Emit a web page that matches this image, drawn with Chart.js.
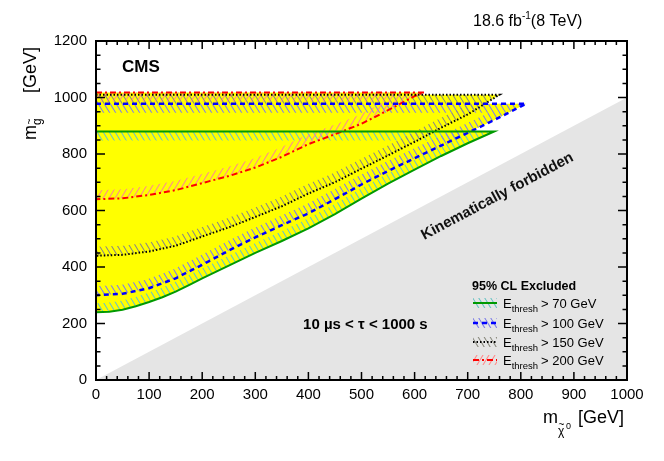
<!DOCTYPE html>
<html>
<head>
<meta charset="utf-8">
<title>Gluino limits</title>
<script src="https://cdn.jsdelivr.net/npm/chart.js@4.4.1/dist/chart.umd.min.js"></script>
<style>
  html, body { margin: 0; padding: 0; background: #fff; }
  #wrap { width: 664px; height: 461px; }
</style>
</head>
<body>
<div id="wrap"><canvas id="limit-chart" width="664" height="461"></canvas></div>
<script>
// axis ranges and ticks
var xRange = [0, 1000];
var yRange = [0, 1200];
var xMajorStep = 100, xMinorStep = 20;
var yMajorStep = 200, yMinorStep = 50;

// lower edge of each excluded region (m_chi0, m_gluino), plus its flat upper edge
var greenX = [0, 25, 50, 75, 100, 125, 150, 175, 200, 250, 300, 350, 400, 450, 500, 550, 600, 650, 700, 750];
var greenY = [240, 242, 249, 261, 276, 293, 313, 336, 360, 405, 450, 492, 537, 587, 642, 695, 745, 793, 838, 880];
var greenTop = 880;

var blueX = [0, 50, 100, 150, 200, 250, 300, 350, 400, 450, 500, 550, 600, 650, 700, 750, 810];
var blueY = [300, 305, 325, 360, 408, 458, 505, 548, 590, 640, 692, 740, 785, 830, 875, 920, 978];
var blueTop = 978;

var blackX = [0, 50, 100, 150, 200, 250, 300, 350, 400, 450, 500, 550, 600, 650, 700, 760];
var blackY = [440, 443, 455, 475, 508, 540, 577, 615, 660, 700, 748, 795, 843, 893, 940, 1010];
var blackTop = 1010;

var redX = [0, 50, 100, 150, 200, 250, 300, 350, 400, 450, 500, 550, 600, 618];
var redY = [640, 643, 655, 672, 697, 722, 752, 790, 835, 870, 907, 955, 1005, 1018];
var redTop = 1018;

// kinematically forbidden triangle (m_chi0 > m_gluino)
var forbiddenX = [0, 1000, 1000];
var forbiddenY = [0, 0, 1000];

var legendNames = ["> 70 GeV", "> 100 GeV", "> 150 GeV", "> 200 GeV"];

var FONT = "'Liberation Sans', Arial, Helvetica, sans-serif";

function toPoints(xs, ys) {
  return xs.map(function (x, i) { return { x: x, y: ys[i] }; });
}

// top edge from x=0 to the tip, then back along the lower edge
function regionPoints(xs, ys, top) {
  var pts = [{ x: xs[0], y: top }];
  for (var i = xs.length - 1; i >= 0; i--) pts.push({ x: xs[i], y: ys[i] });
  return pts;
}

function makeHatch(color, forward) {
  var w = 6, h = 10;
  var c = document.createElement("canvas");
  c.width = w;
  c.height = h;
  var g = c.getContext("2d");
  g.strokeStyle = color;
  g.lineWidth = 1.1;
  g.beginPath();
  if (forward) {
    g.moveTo(0, h); g.lineTo(w, 0);
    g.moveTo(-w, h); g.lineTo(0, 0);
    g.moveTo(w, h); g.lineTo(2 * w, 0);
  } else {
    g.moveTo(0, 0); g.lineTo(w, h);
    g.moveTo(-w, 0); g.lineTo(0, h);
    g.moveTo(w, 0); g.lineTo(2 * w, h);
  }
  g.stroke();
  return g.createPattern(c, "repeat");
}

var regions = [
  { pts: regionPoints(greenX, greenY, greenTop), line: "#009a00", dash: [], width: 2, hatch: makeHatch("#6cc4c4", false) },
  { pts: regionPoints(blueX, blueY, blueTop), line: "#0000ff", dash: [5, 4], width: 2.5, hatch: makeHatch("#8080e8", false) },
  { pts: regionPoints(blackX, blackY, blackTop), line: "#000000", dash: [1.5, 2], width: 2, hatch: makeHatch("#8c8c80", false) },
  { pts: regionPoints(redX, redY, redTop), line: "#ff0000", dash: [6, 3, 2, 3], width: 2, hatch: makeHatch("#ff8c8c", true) },
];

var datasets = [];
regions.forEach(function (r) {
  datasets.push({
    data: r.pts, showLine: true, outline: true, order: 1,
    borderColor: r.line, borderWidth: r.width, borderDash: r.dash,
    pointRadius: 0, fill: false, tension: 0,
  });
});
regions.forEach(function (r) {
  datasets.push({
    data: r.pts, showLine: true, order: 2,
    borderWidth: 0, borderColor: "rgba(0,0,0,0)", backgroundColor: "#ffff00",
    pointRadius: 0, fill: "shape", tension: 0,
  });
});
datasets.push({
  data: toPoints(forbiddenX, forbiddenY), showLine: true, order: 3,
  borderWidth: 0, borderColor: "rgba(0,0,0,0)", backgroundColor: "#e5e5e5",
  pointRadius: 0, fill: "shape",
});

function tracePath(ctx, chart, pts, close) {
  var xs = chart.scales.x, ys = chart.scales.y;
  ctx.beginPath();
  pts.forEach(function (p, i) {
    var px = xs.getPixelForValue(p.x), py = ys.getPixelForValue(p.y);
    if (i === 0) ctx.moveTo(px, py);
    else ctx.lineTo(px, py);
  });
  if (close) ctx.closePath();
}

// hatched band on the inner side of each contour, drawn under the contour lines
var hatchPlugin = {
  id: "hatch",
  beforeDatasetsDraw: function (chart) { chart.$hatched = false; },
  beforeDatasetDraw: function (chart, args) {
    if (chart.$hatched || !chart.data.datasets[args.index].outline) return;
    chart.$hatched = true;
    var ctx = chart.ctx, a = chart.chartArea;
    regions.forEach(function (r) {
      ctx.save();
      ctx.beginPath();
      ctx.rect(a.left, a.top, a.right - a.left, a.bottom - a.top);
      ctx.clip();
      tracePath(ctx, chart, r.pts, true);
      ctx.clip();
      tracePath(ctx, chart, r.pts, false);
      ctx.strokeStyle = r.hatch;
      ctx.lineWidth = 18;
      ctx.lineJoin = "round";
      ctx.stroke();
      ctx.restore();
    });
  },
};

function drawScript(ctx, x, y, parts) {
  parts.forEach(function (p) {
    ctx.font = (p.bold ? "bold " : "") + p.size + "px " + FONT;
    ctx.fillText(p.t, x, y + (p.dy || 0));
    x += ctx.measureText(p.t).width + (p.gap || 0);
  });
  return x;
}

var framePlugin = {
  id: "rootFrame",
  afterDraw: function (chart) {
    var ctx = chart.ctx, a = chart.chartArea, xs = chart.scales.x, ys = chart.scales.y;
    var v, px, py, len;
    ctx.save();
    ctx.strokeStyle = "#000";
    ctx.lineWidth = 1.5;
    ctx.beginPath();
    for (v = xRange[0]; v <= xRange[1]; v += xMinorStep) {
      px = xs.getPixelForValue(v);
      len = v % xMajorStep === 0 ? 8 : 4;
      ctx.moveTo(px, a.bottom); ctx.lineTo(px, a.bottom - len);
      ctx.moveTo(px, a.top); ctx.lineTo(px, a.top + len);
    }
    for (v = yRange[0]; v <= yRange[1]; v += yMinorStep) {
      py = ys.getPixelForValue(v);
      len = v % yMajorStep === 0 ? 9 : 4.5;
      ctx.moveTo(a.left, py); ctx.lineTo(a.left + len, py);
      ctx.moveTo(a.right, py); ctx.lineTo(a.right - len, py);
    }
    ctx.stroke();
    ctx.lineWidth = 2;
    ctx.strokeRect(a.left, a.top, a.right - a.left, a.bottom - a.top);

    ctx.fillStyle = "#000";
    ctx.textAlign = "left";
    ctx.textBaseline = "alphabetic";

    // labels inside the frame
    ctx.font = "bold 17px " + FONT;
    ctx.fillText("CMS", xs.getPixelForValue(49), ys.getPixelForValue(1090));
    ctx.font = "bold 15px " + FONT;
    ctx.fillText("10 \u00b5s < \u03c4 < 1000 s", xs.getPixelForValue(390), ys.getPixelForValue(180));

    var ang = Math.atan2(ys.getPixelForValue(1000) - ys.getPixelForValue(0),
                         xs.getPixelForValue(1000) - xs.getPixelForValue(0));
    ctx.save();
    ctx.translate(xs.getPixelForValue(756), ys.getPixelForValue(650));
    ctx.rotate(ang);
    ctx.textAlign = "center";
    ctx.textBaseline = "middle";
    ctx.font = "bold 15px " + FONT;
    ctx.fillStyle = "#111";
    ctx.fillText("Kinematically forbidden", 0, 0);
    ctx.restore();

    // luminosity label
    drawScript(ctx, 473, 26, [
      { t: "18.6 fb", size: 16 },
      { t: "-1", size: 10, dy: -7 },
      { t: "(8 TeV)", size: 16 },
    ]);

    // x title
    ctx.textAlign = "left";
    var tx = drawScript(ctx, 543, 423, [{ t: "m", size: 18 }]);
    ctx.font = "12px " + FONT;
    ctx.fillText("\u03c7", tx, 435);
    ctx.font = "10px " + FONT;
    ctx.fillText("~", tx + 0.5, 428);
    ctx.font = "9px " + FONT;
    ctx.fillText("0", tx + 8, 429);
    drawScript(ctx, 578, 423, [{ t: "[GeV]", size: 18 }]);

    // y title
    ctx.save();
    ctx.translate(36, 140);
    ctx.rotate(-Math.PI / 2);
    var ty = drawScript(ctx, 0, 0, [{ t: "m", size: 18 }]);
    ctx.font = "12px " + FONT;
    ctx.fillText("g", ty, 5);
    ctx.font = "10px " + FONT;
    ctx.fillText("~", ty + 0.5, -3);
    drawScript(ctx, 47, 0, [{ t: "[GeV]", size: 18 }]);
    ctx.restore();

    // legend
    ctx.font = "bold 12.5px " + FONT;
    ctx.fillText("95% CL Excluded", 472, 290);
    var rows = [303, 323, 342, 360];
    regions.forEach(function (r, i) {
      var cy = rows[i];
      ctx.save();
      ctx.fillStyle = r.hatch;
      ctx.fillRect(473, cy - 5, 24, 10);
      ctx.beginPath();
      ctx.moveTo(473, cy);
      ctx.lineTo(497, cy);
      ctx.strokeStyle = r.line;
      ctx.lineWidth = r.width;
      ctx.setLineDash(r.dash);
      ctx.stroke();
      ctx.restore();
      drawScript(ctx, 503, cy + 5, [
        { t: "E", size: 13 },
        { t: "thresh", size: 9.5, dy: 3.5, gap: 3 },
        { t: legendNames[i], size: 13 },
      ]);
    });
    ctx.restore();
  },
};

var tickFont = { family: FONT, size: 15 };
function plainTick(value) { return String(value); }

var ctx = document.getElementById("limit-chart").getContext("2d");
var limitChart = new Chart(ctx, {
  type: "scatter",
  data: { datasets: datasets },
  options: {
    responsive: false,
    animation: false,
    events: [],
    layout: { padding: { top: 41, right: 37, left: 0, bottom: 0 } },
    plugins: { legend: { display: false }, tooltip: { enabled: false } },
    scales: {
      x: {
        type: "linear", min: xRange[0], max: xRange[1],
        grid: { display: false, drawTicks: false }, border: { display: false },
        ticks: { stepSize: xMajorStep, font: tickFont, color: "#000", padding: 6, maxRotation: 0, autoSkip: false, callback: plainTick },
        afterFit: function (scale) { scale.height = 81; },
      },
      y: {
        type: "linear", min: yRange[0], max: yRange[1],
        grid: { display: false, drawTicks: false }, border: { display: false },
        ticks: { stepSize: yMajorStep, font: tickFont, color: "#000", padding: 9, callback: plainTick },
        afterFit: function (scale) { scale.width = 96; },
      },
    },
  },
  plugins: [hatchPlugin, framePlugin],
});
</script>
</body>
</html>
